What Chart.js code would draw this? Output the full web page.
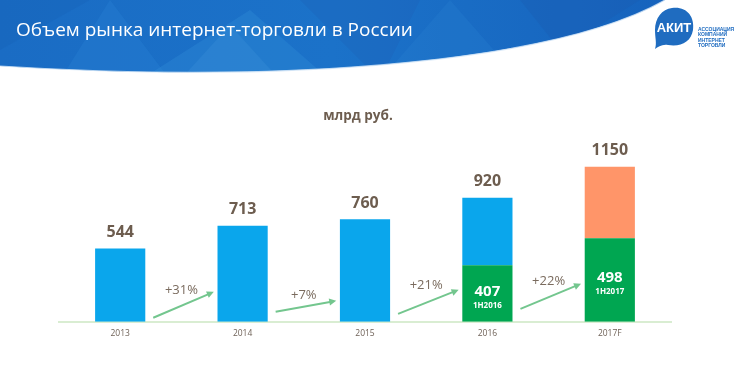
<!DOCTYPE html>
<html lang="ru">
<head>
<meta charset="utf-8">
<script src="https://cdn.jsdelivr.net/npm/chart.js@4.4.1/dist/chart.umd.min.js"></script>
<style>
  html, body { margin: 0; padding: 0; background: #fff; }
  #wrap { position: relative; width: 750px; height: 366px; overflow: hidden; font-family: "Open Sans", sans-serif; }
  #chart { position: absolute; left: 0; top: 0; }
  #banner { position: absolute; left: 0; top: 0; }
  #title { position: absolute; left: 16px; top: 16px; color: #fff; font-size: 19px; white-space: nowrap; }
  #unit { position: absolute; left: 0; width: 716px; top: 106px; text-align: center; color: #6d5d4f; font-size: 13.5px; font-weight: bold; }
  #logoText { position: absolute; left: 698px; top: 27px; color: #1f6cc0; font-size: 5px; font-weight: bold; line-height: 5.4px; font-family: "Liberation Sans", sans-serif; }
</style>
</head>
<body>
<div id="wrap">
  <canvas id="chart" width="750" height="366"></canvas>
  <svg id="banner" width="750" height="80" viewBox="0 0 750 80">
    <defs>
      <linearGradient id="bg" x1="0" y1="0" x2="1" y2="0">
        <stop offset="0" stop-color="#1a6cc4"/>
        <stop offset="0.5" stop-color="#1b72c9"/>
        <stop offset="1" stop-color="#1663bd"/>
      </linearGradient>
      <clipPath id="bclip">
        <path d="M0,0 L665,0 C560,60 300,85 0,66 Z"/>
      </clipPath>
    </defs>
    <path d="M0,0 L665,0 C560,60 300,85 0,66 Z" fill="url(#bg)"/>
    <g clip-path="url(#bclip)">
      <polygon points="60,80 110,0 170,80" fill="#2a86d6" opacity="0.3"/>
      <polygon points="140,80 250,10 330,80" fill="#3592dc" opacity="0.3"/>
      <polygon points="180,80 230,25 280,80" fill="#4aa0e0" opacity="0.2"/>
      <polygon points="300,0 420,0 380,80" fill="#1d5fb5" opacity="0.3"/>
      <polygon points="380,80 450,0 520,80" fill="#2c85d4" opacity="0.25"/>
      <polygon points="520,0 640,0 560,50" fill="#1b5cb2" opacity="0.35"/>
      <polygon points="0,0 90,0 0,50" fill="#1860b8" opacity="0.35"/>
    </g>
    <path d="M0,66 C300,85 560,60 665,0" fill="none" stroke="#cfe3f6" stroke-width="1.2" opacity="0.8"/>
    <path d="M672,8 C686,6 695,16 693,30 C691,42 681,47 668,45 C662,44 658,47 655,49 C657,43 655,38 655,30 C655,18 662,9 672,8 Z" fill="#1f6cc0"/>
    <text x="674" y="32" text-anchor="middle" fill="#fff" font-family="Liberation Sans, sans-serif" font-weight="bold" font-size="13">АКИТ</text>
  </svg>
  <div id="title">Объем рынка интернет-торговли в России</div>
  <div id="unit">млрд руб.</div>
  <div id="logoText">АССОЦИАЦИЯ<br>КОМПАНИЙ<br>ИНТЕРНЕТ<br>ТОРГОВЛИ</div>
</div>
<script>
// ---- data ----
const categories = ['2013', '2014', '2015', '2016', '2017F'];
const totals = [544, 713, 760, 920, 1150];
// first-half segment as drawn (green), and its printed label
const halfYearBar = [null, null, null, 420, 620];
const halfYearValue = ['', '', '', '407', '498'];
const halfYearTag = ['', '', '', '1H2016', '1H2017'];
const growthLabels = ['+31%', '+7%', '+21%', '+22%'];
// arrow start/end heights and label heights in value units
const arrowStart = [30, 74, 59, 96];
const arrowEnd = [222, 156, 237, 282];
const growthLabelY = [237, 193, 267, 304];
const forecastIndex = 4;

// ---- derived datasets ----
const blueData = totals.map((t, i) => i === forecastIndex ? null : (halfYearBar[i] ? t - halfYearBar[i] : t));
const orangeData = totals.map((t, i) => i === forecastIndex ? t - halfYearBar[i] : null);

const BROWN = '#6d5d4f';

const overlay = {
  id: 'overlay',
  afterDatasetsDraw(chart) {
    const { ctx, scales: { x, y } } = chart;
    ctx.save();
    const step = x.getPixelForValue(1) - x.getPixelForValue(0);
    ctx.font = 'bold 16px "Open Sans"';
    ctx.fillStyle = BROWN;
    ctx.textAlign = 'center';
    ctx.textBaseline = 'middle';
    totals.forEach((t, i) => {
      ctx.fillText(String(t), x.getPixelForValue(i), y.getPixelForValue(t) - 16);
    });
    halfYearBar.forEach((h, i) => {
      if (!h) return;
      const cy = (y.getPixelForValue(0) + y.getPixelForValue(h)) / 2;
      ctx.fillStyle = '#fff';
      ctx.font = 'bold 15px "Open Sans"';
      ctx.fillText(halfYearValue[i], x.getPixelForValue(i), cy - 2);
      ctx.font = 'bold 8px "Open Sans"';
      ctx.fillText(halfYearTag[i], x.getPixelForValue(i), cy + 12);
    });
    growthLabels.forEach((lab, i) => {
      const x0 = x.getPixelForValue(i) + step * 0.27;
      const x1 = x.getPixelForValue(i + 1) - step * 0.235;
      const y0 = y.getPixelForValue(arrowStart[i]);
      const y1 = y.getPixelForValue(arrowEnd[i]);
      const ang = Math.atan2(y1 - y0, x1 - x0);
      ctx.strokeStyle = '#73c68e';
      ctx.fillStyle = '#73c68e';
      ctx.lineWidth = 2;
      ctx.beginPath();
      ctx.moveTo(x0, y0);
      ctx.lineTo(x1 - 5 * Math.cos(ang), y1 - 5 * Math.sin(ang));
      ctx.stroke();
      ctx.beginPath();
      ctx.moveTo(x1, y1);
      ctx.lineTo(x1 - 7 * Math.cos(ang) + 3.5 * Math.sin(ang), y1 - 7 * Math.sin(ang) - 3.5 * Math.cos(ang));
      ctx.lineTo(x1 - 7 * Math.cos(ang) - 3.5 * Math.sin(ang), y1 - 7 * Math.sin(ang) + 3.5 * Math.cos(ang));
      ctx.closePath();
      ctx.fill();
      ctx.fillStyle = '#7a6b5e';
      ctx.font = '13px "Open Sans"';
      ctx.fillText(lab, (x.getPixelForValue(i) + x.getPixelForValue(i + 1)) / 2, y.getPixelForValue(growthLabelY[i]));
    });
    ctx.restore();
  }
};

new Chart(document.getElementById('chart'), {
  type: 'bar',
  data: {
    labels: categories,
    datasets: [
      { label: '1H', data: halfYearBar, backgroundColor: '#00a651', borderWidth: 0 },
      { label: 'Год', data: blueData, backgroundColor: '#0aa6ec', borderWidth: 0 },
      { label: 'Прогноз', data: orangeData, backgroundColor: '#ff9569', borderWidth: 0 }
    ]
  },
  options: {
    responsive: false,
    animation: false,
    events: [],
    layout: { padding: { top: 133, left: 59, right: 79, bottom: 20 } },
    plugins: { legend: { display: false }, tooltip: { enabled: false }, title: { display: false } },
    datasets: { bar: { categoryPercentage: 1, barPercentage: 0.41 } },
    scales: {
      x: {
        stacked: true,
        grid: { display: false, drawTicks: false },
        border: { display: true, color: '#d9edd2', width: 2 },
        ticks: { color: '#6f6258', font: { family: 'Open Sans', size: 8.5 }, padding: 7 }
      },
      y: { stacked: true, display: false, min: 0, max: 1400 }
    }
  },
  plugins: [overlay]
});
</script>
</body>
</html>
